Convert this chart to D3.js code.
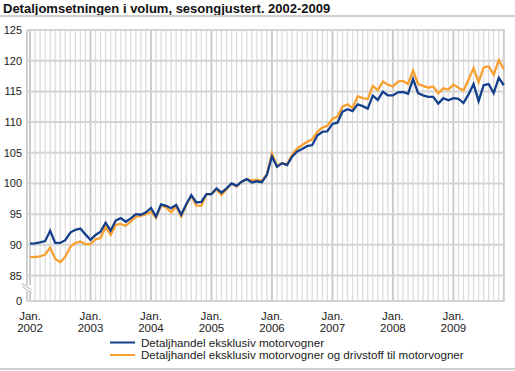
<!DOCTYPE html>
<html>
<head>
<meta charset="utf-8">
<script src="https://cdn.jsdelivr.net/npm/d3@7"></script>
<style>
  html, body { margin: 0; padding: 0; background: #fff; }
  svg { display: block; font-family: "Liberation Sans", Arial, sans-serif; }
</style>
</head>
<body>
<svg id="chart" width="515" height="371"></svg>
<script>
const title = "Detaljomsetningen i volum, sesongjustert. 2002-2009";
const startYear = 2002;
const years = ["2002", "2003", "2004", "2005", "2006", "2007", "2008", "2009"];
const yTicks = [0, 85, 90, 95, 100, 105, 110, 115, 120, 125];
const seriesNames = [
  "Detaljhandel eksklusiv motorvogner",
  "Detaljhandel eksklusiv motorvogner og drivstoff til motorvogner"
];
// Monthly values, Jan 2002 - Nov 2009
const blueValues = [
  90.2, 90.25, 90.4, 90.6, 92.3, 90.3, 90.3, 90.75, 92.0, 92.45, 92.65, 91.7,
  90.8, 91.6, 92.15, 93.6, 92.3, 93.95, 94.35, 93.75, 94.3, 95.0, 94.9, 95.3,
  96.0, 94.6, 96.6, 96.35, 95.95, 96.5, 94.9, 96.6, 98.1, 96.9, 97.0, 98.25,
  98.25, 99.2, 98.5, 99.2, 100.0, 99.6, 100.3, 100.7, 100.15, 100.35, 100.2, 101.4,
  104.4, 102.7, 103.3, 103.0, 104.35, 105.2, 105.6, 106.1, 106.25, 107.8, 108.4, 108.5,
  109.7, 109.9, 111.7, 112.1, 111.8, 112.9, 112.6, 112.2, 114.3, 113.6, 114.95, 114.35,
  114.35, 114.85, 114.9, 114.6, 117.0, 114.7, 114.35, 114.1, 114.1, 113.0, 113.9, 113.55,
  113.9, 113.8, 113.1, 114.5, 116.2, 113.4, 116.0, 116.2, 114.7, 117.2, 116.0
];
const orangeValues = [
  88.05, 88.0, 88.1, 88.4, 89.55, 87.7, 87.15, 88.05, 89.7, 90.3, 90.55, 90.1,
  90.1, 90.9, 91.1, 92.9, 91.6, 93.25, 93.4, 93.1, 93.8, 94.55, 94.7, 95.0,
  95.35, 94.4, 96.45, 96.1, 95.3, 96.3, 94.6, 96.5, 98.0, 96.4, 96.35, 98.2,
  98.3, 99.0, 98.1, 99.1, 100.0, 99.5, 100.3, 100.7, 100.5, 100.6, 100.4, 101.5,
  104.9, 102.9, 103.3, 103.1, 104.7, 105.7, 106.25, 106.8, 107.2, 108.4, 109.1, 109.4,
  110.5, 110.9, 112.5, 112.9, 112.3, 114.2, 113.9, 113.75, 115.9, 115.2, 116.6, 116.1,
  115.8, 116.6, 116.7, 116.2, 118.4, 116.2, 115.9, 115.6, 115.8, 114.7, 115.5, 115.3,
  116.1, 115.6, 115.15, 116.9, 118.8, 116.5, 118.9, 119.1, 117.7, 120.1, 118.6
];
const colors = ["#133f8c", "#f7a02f"];

const svg = d3.select("#chart");
const W = 515;

// title + rules
svg.append("text").attr("x", 3).attr("y", 13)
  .attr("font-size", "13px").attr("font-weight", "bold").attr("fill", "#111")
  .text(title);
svg.append("rect").attr("x", 0).attr("y", 15).attr("width", W).attr("height", 2).attr("fill", "#d0d0d0");
svg.append("rect").attr("x", 0).attr("y", 368).attr("width", W).attr("height", 2).attr("fill", "#d0d0d0");

const nMonths = blueValues.length;
const x = d3.scaleLinear().domain([0, 94]).range([30, 503.8]);
const y = d3.scaleLinear().domain([0, 85, 125]).range([301, 275.5, 30]);
const plotLeft = 27, plotRight = x(nMonths - 1);

// vertical grid
const months = d3.range(nMonths);
svg.append("g").selectAll("line").data(months).join("line")
  .attr("x1", d => x(d)).attr("x2", d => x(d))
  .attr("y1", y(125)).attr("y2", y(0))
  .attr("stroke", d => (d % 12 === 0 || d === nMonths - 1) ? "#cccccc" : "#dcdcdc")
  .attr("stroke-width", d => (d % 12 === 0 || d === nMonths - 1) ? 2 : 1.3);

// horizontal grid
svg.append("g").selectAll("line").data(yTicks).join("line")
  .attr("x1", plotLeft).attr("x2", plotRight + 1)
  .attr("y1", d => y(d)).attr("y2", d => y(d))
  .attr("stroke", "#d4d4d4").attr("stroke-width", 2);

// left axis
svg.append("line").attr("x1", plotLeft).attr("x2", plotLeft)
  .attr("y1", y(125)).attr("y2", y(0)).attr("stroke", "#cfcfcf").attr("stroke-width", 2);
// axis break
const yb = (y(85) + y(0)) / 2;
svg.append("rect").attr("x", plotLeft - 4).attr("y", yb - 3).attr("width", 8).attr("height", 6).attr("fill", "#fff");
svg.append("line").attr("x1", plotLeft - 5).attr("y1", yb - 5).attr("x2", plotLeft + 5).attr("y2", yb + 2).attr("stroke", "#c8c8c8").attr("stroke-width", 1.2);
svg.append("line").attr("x1", plotLeft - 5).attr("y1", yb - 2).attr("x2", plotLeft + 5).attr("y2", yb + 5).attr("stroke", "#c8c8c8").attr("stroke-width", 1.2);

// y tick labels
svg.append("g").selectAll("text").data(yTicks).join("text")
  .attr("x", 22).attr("y", d => y(d) + 4)
  .attr("text-anchor", "end").attr("font-size", "11px").attr("fill", "#222")
  .text(d => d);

// x labels
const xl = svg.append("g").selectAll("g").data(years).join("g")
  .attr("transform", (d, i) => `translate(${x(i * 12)},0)`);
xl.append("text").attr("y", 320).attr("text-anchor", "middle").attr("font-size", "11.5px").attr("fill", "#222").text("Jan.");
xl.append("text").attr("y", 332).attr("text-anchor", "middle").attr("font-size", "11.5px").attr("fill", "#222").text(d => d);

// lines
const line = d3.line().x((d, i) => x(i)).y(d => y(d));
[orangeValues, blueValues].forEach((vals, k) => {
  svg.append("path").datum(vals)
    .attr("fill", "none")
    .attr("stroke", k === 0 ? colors[1] : colors[0])
    .attr("stroke-width", 2.3)
    .attr("stroke-linejoin", "miter")
    .attr("d", line);
});

// legend
const lg = svg.append("g").selectAll("g").data(seriesNames).join("g")
  .attr("transform", (d, i) => `translate(110,${342.5 + i * 12.5})`);
lg.append("line").attr("x1", 0).attr("x2", 25).attr("y1", 0).attr("y2", 0)
  .attr("stroke", (d, i) => colors[i]).attr("stroke-width", 2);
lg.append("text").attr("x", 31).attr("y", 4.2).attr("font-size", "11.6px").attr("fill", "#222").text(d => d);
</script>
</body>
</html>
